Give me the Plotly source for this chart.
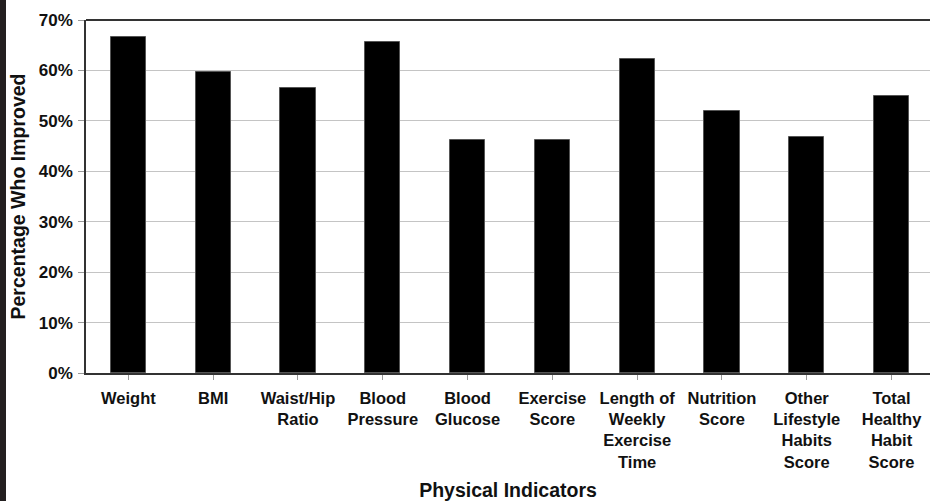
import plotly.graph_objects as go

categories = ["Weight", "BMI", "Waist/Hip<br>Ratio", "Blood<br>Pressure", "Blood<br>Glucose",
              "Exercise<br>Score", "Length of<br>Weekly<br>Exercise<br>Time", "Nutrition<br>Score",
              "Other<br>Lifestyle<br>Habits<br>Score", "Total<br>Healthy<br>Habit<br>Score"]
pct_improved = [66.7, 59.6, 56.5, 65.7, 46.3, 46.3, 62.2, 52.0, 46.8, 55.0]
y_ticks = [0, 10, 20, 30, 40, 50, 60, 70]

font_family = "Liberation Sans, Arial, sans-serif"

fig = go.Figure()
fig.add_trace(go.Bar(
    x=list(range(len(categories))),
    y=pct_improved,
    width=0.415,
    marker=dict(color="#000000", line=dict(color="#555555", width=1)),
))

fig.update_layout(
    width=930, height=501,
    margin=dict(l=86, r=0, t=20, b=128),
    paper_bgcolor="white", plot_bgcolor="white",
    showlegend=False,
    font=dict(family=font_family, color="#111111"),
    bargap=0,
)
fig.update_xaxes(
    automargin=False,
    range=[-0.5, 9.454],
    tickmode="array",
    tickvals=list(range(len(categories))),
    ticktext=categories,
    tickfont=dict(size=16.5, family=font_family, weight="bold", color="#111111"),
    ticks="outside", ticklen=5, tickcolor="#999999", tickson="boundaries",
    ticklabelstandoff=4,
    showline=True, linecolor="#333333", linewidth=1.5,
    showgrid=False, zeroline=False,
    title=dict(text="<b>Physical Indicators</b>", font=dict(size=19.5, family=font_family, color="#111111"), standoff=22),
)
fig.update_yaxes(
    automargin=False,
    range=[0, 70],
    tickmode="array",
    tickvals=y_ticks,
    ticktext=[f"{v}%" for v in y_ticks],
    tickfont=dict(size=17, family=font_family, weight="bold", color="#111111"),
    ticks="outside", ticklen=6, tickcolor="#999999",
    ticklabelstandoff=2,
    showline=True, linecolor="#333333", linewidth=1.5,
    showgrid=True, gridcolor="#c4c4c4", gridwidth=1,
    zeroline=False,
    title=dict(text="<b>Percentage Who Improved</b>", font=dict(size=19.5, family=font_family, color="#111111"), standoff=8),
)

# top border of plot area
fig.add_shape(type="line", xref="paper", yref="paper", x0=0, x1=1, y0=1, y1=1,
              line=dict(color="#333333", width=2))
# dark strip at left edge of the image
fig.add_shape(type="rect", xref="paper", yref="paper",
              x0=-86/844, x1=-80/844, y0=-128/353, y1=(373)/353,
              line=dict(width=0), fillcolor="#231f20", layer="above")

fig.write_html("out.html",
               config={"displayModeBar": False},
               post_script="document.body.style.margin='0';document.body.style.overflow='hidden';")
